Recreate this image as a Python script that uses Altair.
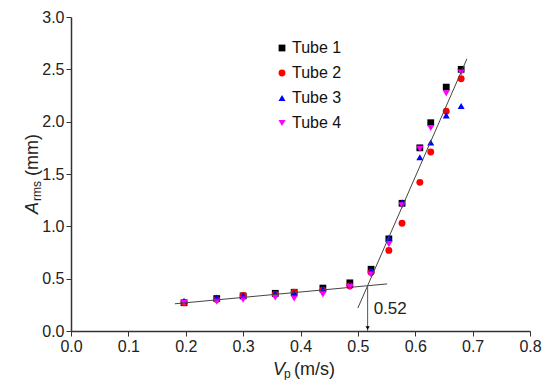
import altair as alt
import pandas as pd

# ---- data ----
vp = [0.197, 0.254, 0.300, 0.356, 0.389, 0.439, 0.486, 0.523, 0.554, 0.577, 0.608, 0.627, 0.654, 0.680]
tube1 = [0.27, 0.31, 0.335, 0.36, 0.37, 0.41, 0.46, 0.59, 0.88, 1.22, 1.75, 1.99, 2.33, 2.50]
tube2 = [0.27, 0.30, 0.34, 0.35, 0.37, 0.39, 0.43, 0.56, 0.77, 1.03, 1.42, 1.71, 2.10, 2.41]
tube3 = [0.29, 0.32, 0.34, 0.36, 0.36, 0.40, 0.44, 0.58, 0.89, 1.23, 1.66, 1.80, 2.06, 2.15]
tube4 = [0.27, 0.28, 0.30, 0.32, 0.31, 0.35, 0.42, 0.54, 0.83, 1.20, 1.74, 1.94, 2.27, 2.47]
series_names = ["Tube 1", "Tube 2", "Tube 3", "Tube 4"]
series_colors = ["#000000", "#ff0000", "#0000ff", "#ff00ff"]
series_shapes = ["square", "circle", "triangle-up", "triangle-down"]
series_sizes = [46, 50, 62, 62]

# fitted lines (endpoints)
fit_low_x = [0.181, 0.551]
fit_low_y = [0.26, 0.45]
fit_high_x = [0.500, 0.690]
fit_high_y = [0.22, 2.60]

# critical velocity marker
crit_x = 0.517
crit_y = 0.43
crit_label = "0.52"
crit_label_y = 0.21

FONT = "Liberation Sans"

rows = []
for name, vals in zip(series_names, [tube1, tube2, tube3, tube4]):
    for x, y in zip(vp, vals):
        rows.append({"Vp": x, "A": y, "Tube": name, "order": series_names.index(name)})
pts = pd.DataFrame(rows)

fit = pd.DataFrame(
    [{"Vp": x, "A": y, "g": "low"} for x, y in zip(fit_low_x, fit_low_y)]
    + [{"Vp": x, "A": y, "g": "high"} for x, y in zip(fit_high_x, fit_high_y)]
)
crit = pd.DataFrame([{"Vp": crit_x, "A": crit_y, "A0": 0.0, "label": crit_label, "Ay": crit_label_y}])

minor_x = "abs(datum.value*10 - round(datum.value*10)) < 0.01"
minor_y = "abs(datum.value*2 - round(datum.value*2)) < 0.01"

x_ticks = [round(i * 0.05, 2) for i in range(17)]
y_ticks = [round(i * 0.25, 2) for i in range(13)]

xscale = alt.Scale(domain=[0, 0.8], nice=False, zero=False)
yscale = alt.Scale(domain=[0, 3.0], nice=False, zero=False)

xaxis = alt.Axis(
    values=x_ticks, title=None, grid=False,
    labelExpr=f"{minor_x} ? format(datum.value, '.1f') : ''",
    tickSize={"condition": {"test": minor_x, "value": 5}, "value": 3},
    labelPadding=2, labelFlush=False, labelOverlap=False,
)
yaxis = alt.Axis(
    values=y_ticks, title=None, grid=False,
    labelExpr=f"{minor_y} ? format(datum.value, '.1f') : ''",
    tickSize={"condition": {"test": minor_y, "value": 5}, "value": 3},
    labelPadding=2, labelFlush=False, labelOverlap=False,
)

points = alt.Chart(pts).mark_point(filled=True, opacity=1).encode(
    x=alt.X("Vp:Q", scale=xscale, axis=xaxis),
    y=alt.Y("A:Q", scale=yscale, axis=yaxis),
    color=alt.Color("Tube:N", scale=alt.Scale(domain=series_names, range=series_colors),
                    legend=alt.Legend(title=None, orient="none", legendX=203, legendY=23,
                                      labelFontSize=16, labelFont=FONT, labelColor="#111",
                                      symbolSize=42, rowPadding=9, labelOffset=2, padding=0)),
    shape=alt.Shape("Tube:N", scale=alt.Scale(domain=series_names, range=series_shapes)),
    size=alt.Size("Tube:N", scale=alt.Scale(domain=series_names, range=series_sizes), legend=None),
    order=alt.Order("order:Q"),
)

lines = alt.Chart(fit).mark_line(color="#444", strokeWidth=1).encode(
    x="Vp:Q", y="A:Q", detail="g:N"
)

arrow = alt.Chart(crit).mark_rule(color="#555", strokeWidth=1).encode(
    x="Vp:Q", y="A:Q", y2="A0:Q"
)
head = alt.Chart(crit).mark_point(shape="triangle-down", filled=True, color="#000",
                                   opacity=1, size=18, yOffset=-3).encode(
    x="Vp:Q", y="A0:Q"
)
lab = alt.Chart(crit).mark_text(align="left", baseline="middle", fontSize=17, font=FONT,
                                color="#222", dx=6).encode(
    x="Vp:Q", y="Ay:Q", text="label:N"
)

def txt(s, x, y, size, italic=False, angle=0):
    return alt.Chart(pd.DataFrame({"t": [s]})).mark_text(
        align="left", baseline="alphabetic", fontSize=size, font=FONT, color="#222",
        fontStyle="italic" if italic else "normal", angle=angle,
    ).encode(x=alt.value(x), y=alt.value(y), text="t:N")

titles = [
    txt("V", 202, 358, 18, italic=True),
    txt("p", 213, 361, 12),
    txt("(m/s)", 223, 358, 18),
    txt("A", -33, 197, 18, italic=True, angle=270),
    txt("rms", -30, 184, 12, angle=270),
    txt("(mm)", -33, 159, 18, angle=270),
]

chart = alt.layer(points, lines, arrow, head, lab, *titles).properties(
    width=459, height=314,
    padding={"left": 71, "top": 17, "right": 24, "bottom": 49},
    autosize=alt.AutoSizeParams(type="none"),
).configure_view(stroke=None).configure_axis(
    labelFont=FONT, labelFontSize=16, labelColor="#222",
    domainColor="#333", domainWidth=1.5, tickColor="#333", tickWidth=1,
)

chart.save("out.html", embed_options={"renderer": "svg", "actions": False})
